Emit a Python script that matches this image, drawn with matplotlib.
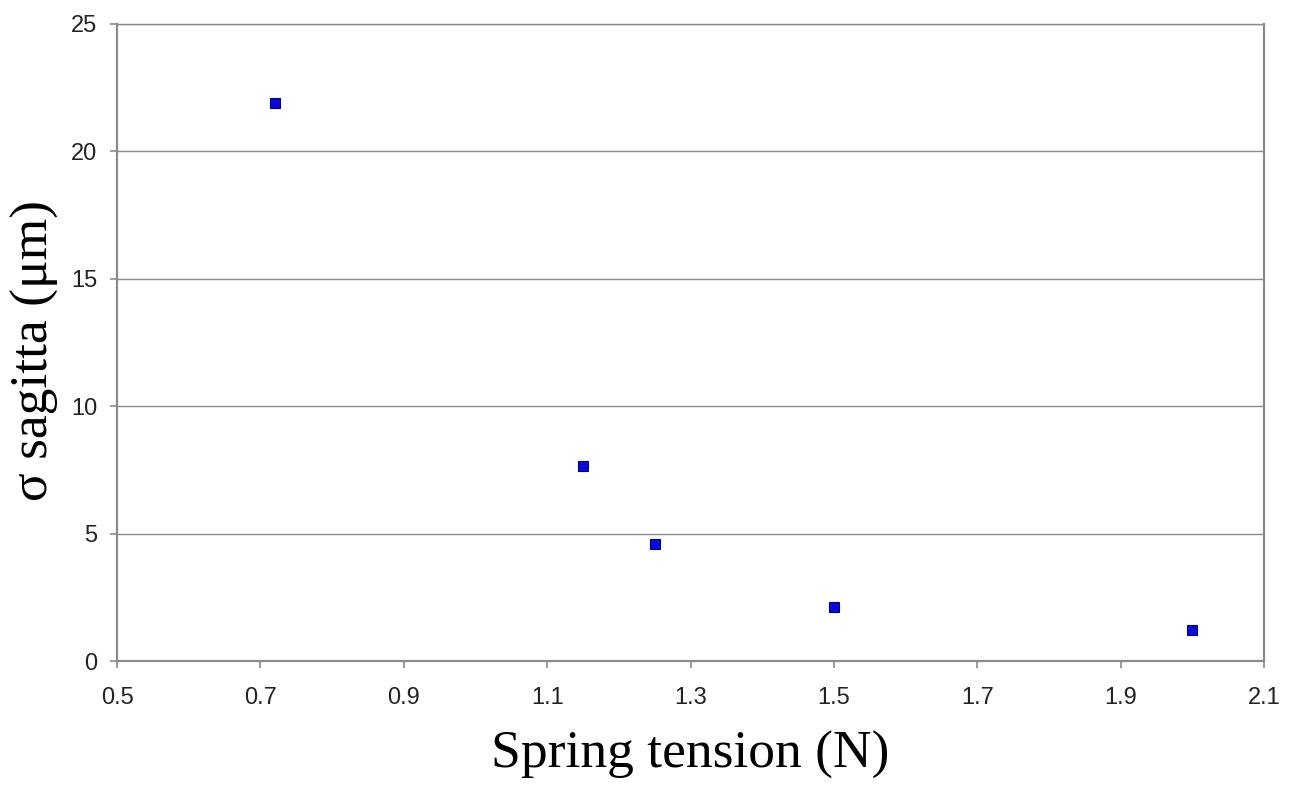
import matplotlib
matplotlib.use("Agg")
import matplotlib.pyplot as plt
import numpy as np

tension = [0.72, 1.15, 1.25, 1.5, 2.0]
sigma_sagitta = [21.9, 7.65, 4.6, 2.1, 1.2]
xticks = [0.5, 0.7, 0.9, 1.1, 1.3, 1.5, 1.7, 1.9, 2.1]
yticks = [0, 5, 10, 15, 20, 25]

fig = plt.figure(figsize=(12.89, 7.92), dpi=100)
ax = fig.add_axes([0.0908, 0.1654, 0.8898, 0.8043])

ax.plot(tension, sigma_sagitta, linestyle='none', marker='s', markersize=7,
        markerfacecolor='#0a0ad8', markeredgecolor='#000090', markeredgewidth=0.8, zorder=3)

ax.set_xlim(0.5, 2.1)
ax.set_ylim(0, 25)
ax.set_xticks(xticks)
ax.set_xticklabels([f"{v:.1f}" for v in xticks])
ax.set_yticks(yticks)
ax.set_yticklabels([str(v) for v in yticks])

ax.yaxis.grid(True, color='#8a8a8a', linewidth=1.0)
ax.set_axisbelow(True)
for side in ['left', 'bottom', 'right']:
    ax.spines[side].set_color('#8a8a8a')
    ax.spines[side].set_linewidth(1.6)
ax.spines['top'].set_color('#8a8a8a')
ax.spines['top'].set_linewidth(1.0)

ax.tick_params(axis='both', direction='out', length=5, width=1.2, color='#8a8a8a',
               labelsize=17, labelcolor='#222222')
ax.tick_params(axis='x', pad=13.5)
ax.tick_params(axis='y', pad=9)
for lab in ax.get_xticklabels() + ax.get_yticklabels():
    lab.set_family('Liberation Sans')

ax.set_xlabel('Spring tension (N)', family='Liberation Serif', fontsize=38.5, labelpad=16)
ax.set_ylabel('σ sagitta (μm)', family='Liberation Serif', fontsize=38.5)
ax.yaxis.set_label_coords(-0.0505, 0.487)

fig.savefig('out.png', dpi=100, facecolor='white')
